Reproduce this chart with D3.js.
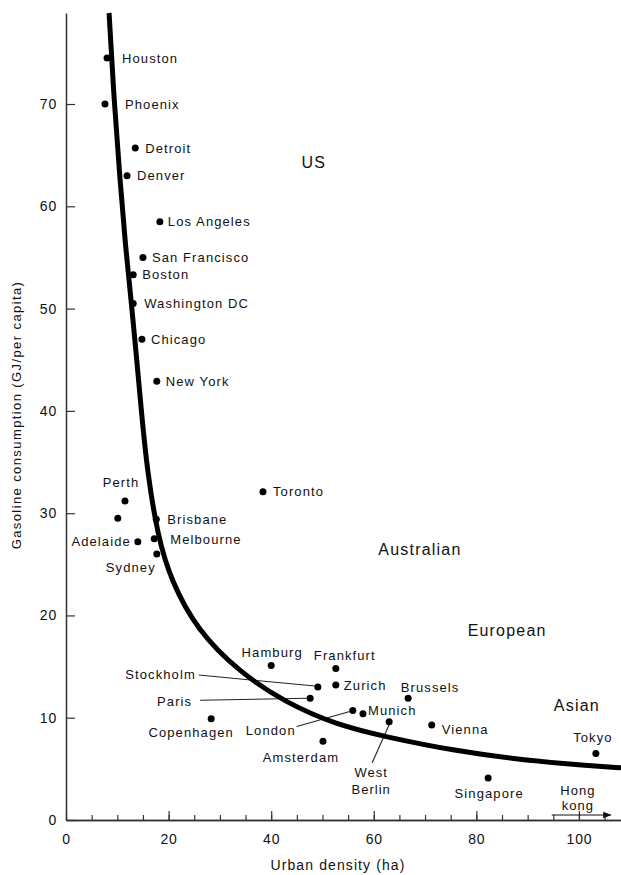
<!DOCTYPE html>
<html>
<head>
<meta charset="utf-8">
<script src="https://cdn.jsdelivr.net/npm/d3@7"></script>
<style>
  body { margin: 0; background: #fff; }
  text { font-family: "Liberation Sans", Arial, sans-serif; fill: #111; }
</style>
</head>
<body>
<div id="chart-area"></div>
<script>
// city points: urban density (ha) vs gasoline use (GJ per capita)
var cities = ["Houston", "Phoenix", "Detroit", "Denver", "Los Angeles", "San Francisco", "Boston",
  "Washington DC", "Chicago", "New York", "Toronto", "Perth", "", "Brisbane", "Adelaide", "Melbourne",
  "Sydney", "Hamburg", "Frankfurt", "Zurich", "Stockholm", "Paris", "London", "Munich", "West Berlin",
  "Brussels", "Vienna", "Amsterdam", "Copenhagen", "Singapore", "Tokyo"];
var density = [8.0, 7.6, 13.5, 11.9, 18.3, 15.0, 13.1,
  13.1, 14.8, 17.7, 38.4, 11.5, 10.1, 17.6, 14.0, 17.2,
  17.7, 40.0, 52.6, 52.6, 49.1, 47.6, 55.9, 57.9, 63.0,
  66.7, 71.3, 50.1, 28.3, 82.3, 103.3];
var gasoline = [74.5, 70.0, 65.7, 63.0, 58.5, 55.0, 53.3,
  50.5, 47.0, 42.9, 32.1, 31.2, 29.5, 29.4, 27.2, 27.5,
  26.0, 15.1, 14.8, 13.2, 13.0, 11.9, 10.7, 10.4, 9.6,
  11.9, 9.3, 7.7, 9.9, 4.1, 6.5];

// hand-drawn trend curve
var curveX = [8.4, 9.4, 10.5, 11.6, 12.7, 13.7, 14.6, 15.8, 17.9, 20.5, 25.5, 33.9, 43.1,
  52.8, 62.6, 75.4, 88.5, 101.6, 108.2];
var curveY = [78.9, 70.1, 62.8, 56.0, 50.8, 45.5, 40.5, 34.2, 27.7, 23.4, 18.6, 14.4, 11.4,
  9.3, 8.1, 6.8, 5.9, 5.3, 5.1];

var groups = ["US", "Australian", "European", "Asian"];
var groupX = [48.3, 69.0, 86.0, 99.6];
var groupY = [64.3, 26.5, 18.5, 11.2];

var xMajor = [0, 20, 40, 60, 80, 100];
var yMajor = [0, 10, 20, 30, 40, 50, 60, 70];

var width = 621, height = 875;

var svg = d3.select("#chart-area").append("svg")
    .attr("width", width)
    .attr("height", height);

var x = d3.scaleLinear().domain([0, 108.2]).range([66, 621]);
var y = d3.scaleLinear().domain([0, 78.9]).range([820, 13]);

// label placement (pixels from the dot)
var lab = {
  "Houston": [15, 0, "start"], "Phoenix": [20, 0, "start"], "Detroit": [10, 0, "start"],
  "Denver": [10, 0, "start"], "Los Angeles": [8, 0, "start"], "San Francisco": [9, 0, "start"],
  "Boston": [9, 0, "start"], "Washington DC": [11, 0, "start"], "Chicago": [9, 0, "start"],
  "New York": [9, 0, "start"], "Toronto": [10, 0, "start"], "Perth": [-4, -18, "middle"],
  "Brisbane": [11, 0, "start"], "Adelaide": [-7, 0, "end"], "Melbourne": [16, 1, "start"],
  "Sydney": [-26, 13, "middle"], "Hamburg": [1, -13, "middle"], "Frankfurt": [9, -13, "middle"],
  "Zurich": [8, 0, "start"], "Stockholm": [-122, -13, "end"], "Paris": [-118, 3, "end"],
  "London": [-57, 20, "end"], "Munich": [5, -3, "start"], "Brussels": [22, -11, "middle"],
  "Vienna": [10, 5, "start"], "Amsterdam": [-22, 16, "middle"], "Copenhagen": [-20, 14, "middle"],
  "Singapore": [1, 15, "middle"], "Tokyo": [-3, -16, "middle"]
};
var leaders = {
  "Stockholm": [-119, -12, -3, -1], "Paris": [-110, 2, -3, 0],
  "London": [-56, 16, -3, 1], "West Berlin": [-17, 41, 0, 3]
};

// axes
var yAxis = d3.axisLeft(y).tickValues(yMajor).tickSizeInner(-9).tickSizeOuter(0).tickPadding(9);
svg.append("g").attr("transform", "translate(66,0)").call(yAxis);

var xMinor = d3.axisBottom(x).tickValues(d3.range(5, 106, 5)).tickSizeInner(-5).tickSizeOuter(0).tickFormat("");
svg.append("g").attr("transform", "translate(0,820)").call(xMinor);
var xAxis = d3.axisBottom(x).tickValues(xMajor).tickSizeInner(-9).tickSizeOuter(0).tickPadding(14);
svg.append("g").attr("transform", "translate(0,820)").call(xAxis);

svg.selectAll(".domain").attr("stroke", "#333").attr("stroke-width", 1.5);
svg.selectAll(".tick line").attr("stroke", "#333").attr("stroke-width", 1.2);
svg.selectAll(".tick text").attr("font-size", "14px").attr("letter-spacing", "0.8px")
    .attr("font-family", "Liberation Sans, Arial, sans-serif").attr("fill", "#222");

svg.append("text")
    .attr("transform", "translate(21,415) rotate(-90)")
    .attr("text-anchor", "middle")
    .attr("font-size", "13px")
    .attr("letter-spacing", "1.4px")
    .text("Gasoline consumption (GJ/per capita)");

svg.append("text")
    .attr("x", 338).attr("y", 870)
    .attr("text-anchor", "middle")
    .attr("font-size", "14px")
    .attr("letter-spacing", "1.1px")
    .text("Urban density (ha)");

var pts = cities.map(function(c, i) { return {name: c, x: density[i], y: gasoline[i]}; });

// leader lines
pts.forEach(function(d) {
  var L = leaders[d.name];
  if (!L) return;
  var px = x(d.x), py = y(d.y);
  svg.append("line")
      .attr("x1", px + L[0]).attr("y1", py + L[1])
      .attr("x2", px + L[2]).attr("y2", py + L[3])
      .attr("stroke", "#222").attr("stroke-width", 1.1);
});

svg.selectAll("circle.city")
    .data(pts)
    .enter().append("circle")
    .attr("class", "city")
    .attr("cx", function(d) { return x(d.x); })
    .attr("cy", function(d) { return y(d.y); })
    .attr("r", 3.5)
    .attr("fill", "#000");

// trend curve (drawn over the dots, as in the original)
var line = d3.line()
    .x(function(d) { return x(d[0]); })
    .y(function(d) { return y(d[1]); })
    .curve(d3.curveBasis);
svg.append("path")
    .datum(d3.zip(curveX, curveY))
    .attr("d", line)
    .attr("fill", "none")
    .attr("stroke", "#000")
    .attr("stroke-width", 5);

pts.forEach(function(d) {
  var px = x(d.x), py = y(d.y);
  if (d.name == "West Berlin") {
    ["West", "Berlin"].forEach(function(w, k) {
      svg.append("text")
          .attr("x", px - 18).attr("y", py + 51 + k * 17)
          .attr("dy", "0.35em")
          .attr("text-anchor", "middle")
          .attr("font-size", "13px")
          .attr("letter-spacing", "1px")
          .text(w);
    });
    return;
  }
  var o = lab[d.name];
  if (!o) return;
  svg.append("text")
      .attr("x", px + o[0]).attr("y", py + o[1])
      .attr("dy", "0.35em")
      .attr("text-anchor", o[2])
      .attr("font-size", "13px")
      .attr("letter-spacing", "1.1px")
      .text(d.name);
});

// group names
groups.forEach(function(gname, i) {
  svg.append("text")
      .attr("x", x(groupX[i])).attr("y", y(groupY[i]))
      .attr("dy", "0.35em")
      .attr("text-anchor", "middle")
      .attr("font-size", "16px")
      .attr("letter-spacing", "1.2px")
      .text(gname);
});

// Hong Kong is off the scale: label with arrow
var hk = svg.append("g");
hk.append("text").attr("x", x(99.8)).attr("y", 790).attr("dy", "0.35em")
    .attr("text-anchor", "middle").attr("font-size", "13px").attr("letter-spacing", "1px").text("Hong");
hk.append("text").attr("x", x(99.8)).attr("y", 805).attr("dy", "0.35em")
    .attr("text-anchor", "middle").attr("font-size", "13px").attr("letter-spacing", "1px").text("kong");
svg.append("defs").append("marker")
    .attr("id", "arrow").attr("viewBox", "0 0 10 10")
    .attr("refX", 9).attr("refY", 5)
    .attr("markerWidth", 7).attr("markerHeight", 7)
    .attr("orient", "auto")
  .append("path").attr("d", "M0,1 L10,5 L0,9 Z").attr("fill", "#111");
hk.append("line")
    .attr("x1", x(94.7)).attr("y1", 815)
    .attr("x2", x(106.2)).attr("y2", 815)
    .attr("stroke", "#111").attr("stroke-width", 1.2)
    .attr("marker-end", "url(#arrow)");
</script>
</body>
</html>
